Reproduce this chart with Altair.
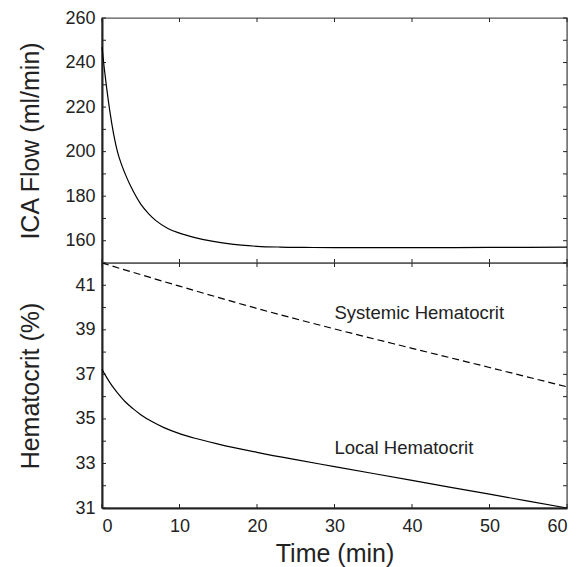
import altair as alt
import pandas as pd

# ---- data ----
flow_t = [0, 0.3, 0.6, 1, 1.5, 2, 2.5, 3, 4, 5, 6, 7, 8.5, 10, 12, 14, 16, 18, 20, 23, 26, 30, 40, 50, 60]
flow_v = [246.9, 237.2, 228.6, 218.4, 207.9, 199.9, 194.4, 189.9, 182.4, 176.4, 172.2, 168.9,
          165.5, 163.4, 161.4, 159.9, 158.8, 158.0, 157.5, 157.15, 157.0, 156.9, 156.9, 157.0, 157.1]

local_t = [0, 0.5, 1, 1.5, 2, 3, 4, 5, 6.5, 8, 10, 12, 15, 20, 25, 30, 40, 50, 60]
local_v = [37.22, 36.92, 36.64, 36.39, 36.17, 35.77, 35.46, 35.19, 34.87, 34.61, 34.34, 34.13,
           33.87, 33.50, 33.17, 32.86, 32.24, 31.62, 31.0]

sys_t = [0, 10, 20, 30, 40, 50, 60]
sys_v = [42.0, 40.96, 39.96, 39.04, 38.17, 37.31, 36.44]

label_text = ["Systemic Hematocrit", "Local Hematocrit"]
label_t = [30, 30]
label_v = [39.75, 33.7]

x_ticks = [0, 10, 20, 30, 40, 50, 60]
flow_ticks = list(range(150, 261, 10))
flow_labels = [160, 180, 200, 220, 240, 260]
hct_ticks = list(range(31, 43))
hct_labels = [31, 33, 35, 37, 39, 41]

W, H1, H2 = 465, 245, 245
TL = 4
INK = "#222222"
FONT = "Liberation Sans"

flow_df = pd.DataFrame({"t": flow_t, "v": flow_v})
local_df = pd.DataFrame({"t": local_t, "v": local_v})
sys_df = pd.DataFrame({"t": sys_t, "v": sys_v})
lab_df = pd.DataFrame({"t": label_t, "v": label_v, "txt": label_text})
xt_df = pd.DataFrame({"t": x_ticks})

xscale = alt.Scale(domain=[0, 60], nice=False, zero=False)


def tick_layers(yt_df, yscale, h):
    xt_top = alt.Chart(xt_df).mark_rule(color=INK, strokeWidth=1).encode(
        x=alt.X("t:Q", scale=xscale), y=alt.value(0), y2=alt.value(TL))
    xt_bot = alt.Chart(xt_df).mark_rule(color=INK, strokeWidth=1).encode(
        x=alt.X("t:Q", scale=xscale), y=alt.value(h), y2=alt.value(h - TL))
    yt_left = alt.Chart(yt_df).mark_rule(color=INK, strokeWidth=1).encode(
        y=alt.Y("v:Q", scale=yscale), x=alt.value(0), x2=alt.value(TL))
    yt_right = alt.Chart(yt_df).mark_rule(color=INK, strokeWidth=1).encode(
        y=alt.Y("v:Q", scale=yscale), x=alt.value(W), x2=alt.value(W - TL))
    return [xt_top, xt_bot, yt_left, yt_right]


# ---- top panel ----
fscale = alt.Scale(domain=[150, 260], nice=False, zero=False)
flow_line = alt.Chart(flow_df).mark_line(color="black", strokeWidth=1.2, interpolate="monotone").encode(
    x=alt.X("t:Q", scale=xscale, axis=None),
    y=alt.Y("v:Q", scale=fscale,
            axis=alt.Axis(values=flow_labels, title="ICA Flow (ml/min)", titlePadding=21)),
)
top = alt.layer(flow_line, *tick_layers(pd.DataFrame({"v": flow_ticks}), fscale, H1)).properties(
    width=W, height=H1)

# ---- bottom panel ----
hscale = alt.Scale(domain=[31, 42], nice=False, zero=False)
local_line = alt.Chart(local_df).mark_line(color="black", strokeWidth=1.2, interpolate="monotone").encode(
    x=alt.X("t:Q", scale=xscale,
            axis=alt.Axis(values=x_ticks, title="Time (min)", labelPadding=9, titlePadding=6)),
    y=alt.Y("v:Q", scale=hscale,
            axis=alt.Axis(values=hct_labels, title="Hematocrit (%)", titlePadding=31)),
)
sys_line = alt.Chart(sys_df).mark_line(color="black", strokeWidth=1.2, strokeDash=[7, 4],
                                       interpolate="monotone").encode(
    x=alt.X("t:Q", scale=xscale), y=alt.Y("v:Q", scale=hscale))
labels = alt.Chart(lab_df).mark_text(align="left", baseline="middle", font=FONT, fontSize=18.5,
                                     color=INK).encode(
    x=alt.X("t:Q", scale=xscale), y=alt.Y("v:Q", scale=hscale), text="txt:N")
bottom = alt.layer(local_line, sys_line, labels,
                   *tick_layers(pd.DataFrame({"v": hct_ticks}), hscale, H2)).properties(
    width=W, height=H2)

chart = alt.vconcat(top, bottom, spacing=0, bounds="flush").properties(
    padding={"top": 0, "left": 10, "right": 5, "bottom": 5}
).configure_view(
    stroke="#555555", strokeWidth=1.4
).configure_axis(
    grid=False, ticks=False, domainColor=INK, domainWidth=2,
    labelFont=FONT, labelFontSize=18, labelColor=INK, labelPadding=7,
    titleFont=FONT, titleFontSize=25, titleFontWeight="normal", titleColor=INK,
).configure_concat(spacing=0)

chart.save("out.html", embed_options={"renderer": "svg", "actions": False})
